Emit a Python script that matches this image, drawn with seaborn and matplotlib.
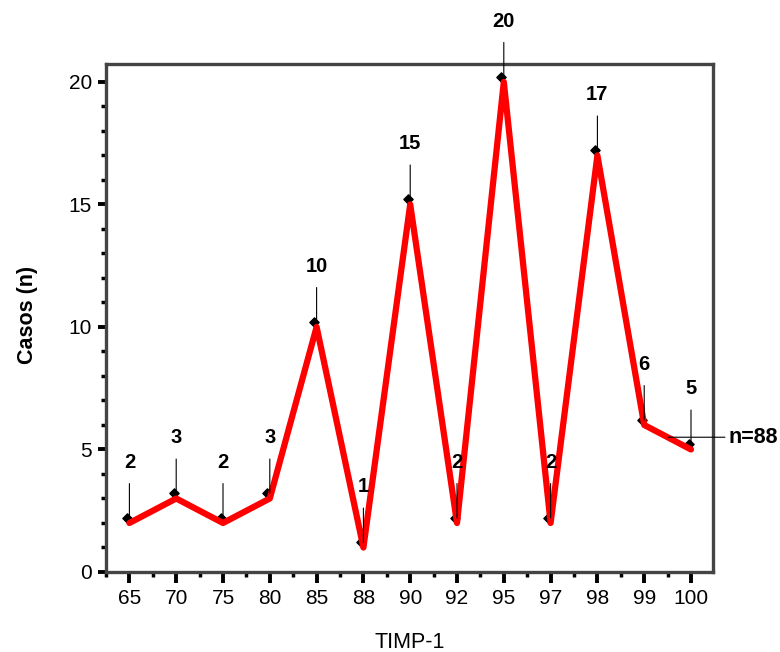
import matplotlib
matplotlib.use("Agg")
import matplotlib.pyplot as plt
import matplotlib.transforms as mtransforms
from matplotlib.ticker import MultipleLocator
import seaborn as sns
import pandas as pd

categories = ["65", "70", "75", "80", "85", "88", "90", "92", "95", "97", "98", "99", "100"]
casos = [2, 3, 2, 3, 10, 1, 15, 2, 20, 2, 17, 6, 5]
total_label = "n=88"

sns.set_theme(style="white")
plt.rcParams["font.family"] = ["Liberation Sans", "DejaVu Sans"]
plt.rcParams["text.color"] = "black"
plt.rcParams["axes.labelcolor"] = "black"

df = pd.DataFrame({"TIMP-1": categories, "Casos": casos})

fig = plt.figure(figsize=(7.8, 6.52), dpi=100)
ax = fig.add_axes([0.1359, 0.1227, 0.9141 - 0.1359, 0.9018 - 0.1227])

# black diamond markers slightly offset (under the line)
mk_tr = mtransforms.offset_copy(ax.transData, fig=fig, x=-2.5, y=5, units="dots")
ln_tr = mtransforms.offset_copy(ax.transData, fig=fig, x=0, y=5, units="dots")
xs = list(range(len(categories)))
ax.scatter(xs, casos, marker="D", s=22, color="black", transform=mk_tr, zorder=2,
           clip_on=False)

sns.lineplot(data=df, x="TIMP-1", y="Casos", sort=False, color="#ff0000",
             linewidth=4.5, ax=ax, zorder=3)

for i, v in enumerate(casos):
    ax.annotate(str(v), xy=(i, v), xycoords=ln_tr, xytext=(0, 40),
                textcoords="offset points", ha="center", va="center",
                fontsize=14.5, fontweight="bold", color="black",
                arrowprops=dict(arrowstyle="-", color="black", lw=0.8,
                                shrinkA=6, shrinkB=0),
                annotation_clip=False, zorder=4)

blend = mtransforms.blended_transform_factory(ax.transAxes, ax.transData)
ax.annotate(total_label, xy=(0.926, 5.5), xycoords=blend,
            xytext=(1.025, 5.5), textcoords=blend, ha="left", va="center",
            fontsize=15.5, fontweight="bold", color="black",
            arrowprops=dict(arrowstyle="-", color="black", lw=0.8,
                            shrinkA=0, shrinkB=0),
            annotation_clip=False)

ax.set_xlim(-0.5, 12.47)
ax.set_ylim(0, 20.73)
ax.yaxis.set_major_locator(MultipleLocator(5))
ax.yaxis.set_minor_locator(MultipleLocator(1))
ax.xaxis.set_minor_locator(MultipleLocator(0.5))

for s in ax.spines.values():
    s.set_color("#444444")
    s.set_linewidth(2.4)
    s.set_visible(True)

ax.tick_params(axis="both", which="major", direction="out", length=6, width=2.8,
               color="black", labelsize=15, labelcolor="black", pad=4)
ax.tick_params(axis="x", which="major", length=8)
ax.tick_params(axis="both", which="minor", direction="out", length=3.5, width=2.5,
               color="black")
ax.tick_params(bottom=True, left=True, which="both")

ax.set_xlabel("TIMP-1", fontsize=15.5, fontweight="normal", color="black")
ax.set_ylabel("Casos (n)", fontsize=15.5, fontweight="bold", color="black")
ax.yaxis.set_label_coords(-0.112, 0.506)
ax.xaxis.set_label_coords(0.5, -0.118)
ax.grid(False)

fig.savefig("out.png", dpi=100)
